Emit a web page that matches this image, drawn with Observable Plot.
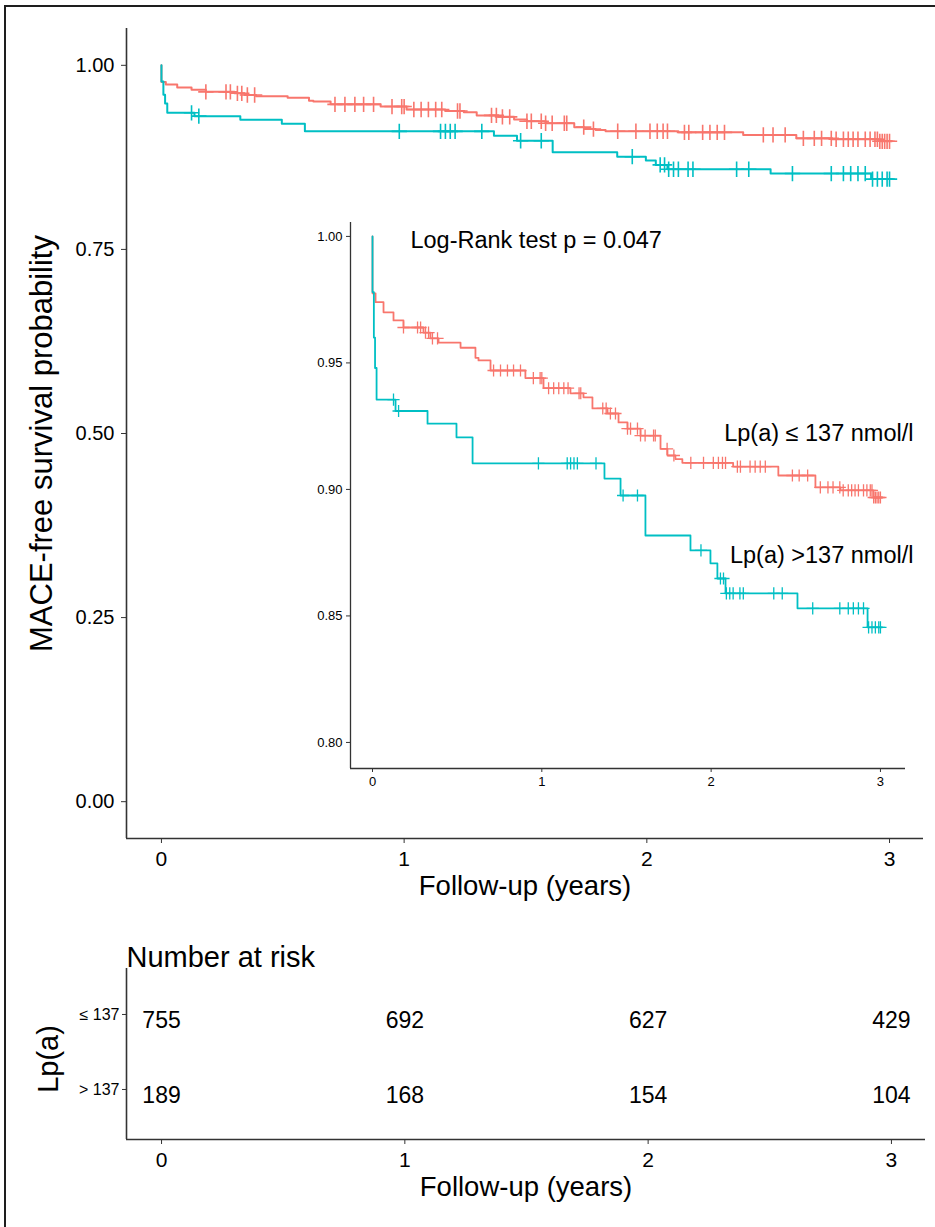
<!DOCTYPE html>
<html>
<head>
<meta charset="utf-8">
<script src="https://cdn.jsdelivr.net/npm/d3@7"></script>
<script src="https://cdn.jsdelivr.net/npm/@observablehq/plot@0.6"></script>
<style>
  body { margin: 0; background: #fff; }
  #fig { position: relative; width: 935px; height: 1227px; overflow: hidden; background: #fff;
         font-family: "Liberation Sans", Arial, sans-serif; }
  #frame { position: absolute; left: 4px; top: 5px; width: 931px; height: 1222px;
           border-top: 2px solid #1e1e1e; border-left: 2px solid #1e1e1e; box-sizing: border-box; }
  #main { position: absolute; left: 0; top: 0; width: 935px; }
  #inset { position: absolute; left: 300px; top: 205px; width: 635px; }
  #risk { position: absolute; left: 0; top: 915px; width: 935px; }
  svg { overflow: visible; }
</style>
</head>
<body>
<div id="fig">
  <div id="frame"></div>
  <div id="main"></div>
  <div id="inset"></div>
  <div id="risk"></div>
</div>
<script>
// ---------------- data ----------------
const groups = ["Lp(a) ≤ 137 nmol/l", "Lp(a) >137 nmol/l"];
const colors = ["#F8766D", "#00BFC4"];

// Kaplan-Meier steps, group Lp(a) <= 137
const lowTime = [0, 0, 0.018, 0.065, 0.124, 0.183, 0.301, 0.342, 0.390, 0.520, 0.608, 0.626, 0.697,
  0.903, 1.010, 1.169, 1.246, 1.299, 1.388, 1.453, 1.506, 1.583, 1.701, 1.742, 1.789, 1.830,
  2.130, 2.397, 2.616, 2.764, 2.959, 3.010];
const lowSurv = [1, 0.9775, 0.974, 0.970, 0.9668, 0.964, 0.962, 0.9597, 0.958, 0.956, 0.952, 0.951, 0.947,
  0.944, 0.940, 0.938, 0.9364, 0.932, 0.930, 0.9265, 0.924, 0.9213, 0.916, 0.9134, 0.912, 0.9105,
  0.9090, 0.9055, 0.9008, 0.8996, 0.8968, 0.8968];
const lowCensor = [0.183, 0.266, 0.284, 0.313, 0.331, 0.354, 0.384, 0.715, 0.756, 0.797, 0.833, 0.874,
  0.95, 0.99, 1.0, 1.04, 1.07, 1.10, 1.13, 1.155, 1.22, 1.23, 1.36, 1.38, 1.405, 1.435, 1.506, 1.524,
  1.565, 1.583, 1.61, 1.66, 1.67, 1.74, 1.78, 1.88, 1.955, 2.013, 2.043, 2.067, 2.085, 2.155, 2.173,
  2.23, 2.26, 2.29, 2.32, 2.48, 2.52, 2.57, 2.645, 2.69, 2.72, 2.76, 2.78, 2.81, 2.83, 2.85, 2.87,
  2.90, 2.92, 2.94, 2.95, 2.96, 2.97, 2.98, 2.99, 3.0];

// Kaplan-Meier steps, group Lp(a) > 137
const highTime = [0, 0, 0.008, 0.015, 0.024, 0.136, 0.325, 0.496, 0.591, 1.370, 1.465, 1.612,
  1.878, 1.996, 2.037, 2.085, 2.510, 2.924, 3.010];
const highSurv = [1, 0.978, 0.960, 0.948, 0.9355, 0.931, 0.926, 0.9206, 0.9103, 0.9043, 0.8976, 0.8818,
  0.8759, 0.8708, 0.8648, 0.8589, 0.853, 0.8455, 0.8455];
const highCensor = [0.124, 0.154, 0.98, 1.15, 1.17, 1.19, 1.21, 1.32, 1.48, 1.565, 1.94, 2.055, 2.073,
  2.09, 2.11, 2.13, 2.17, 2.19, 2.37, 2.42, 2.60, 2.76, 2.81, 2.84, 2.87, 2.90, 2.93, 2.95, 2.97, 2.99, 3.0];

// Number at risk
const riskTimes = [0, 1, 2, 3];
const riskGroups = ["≤ 137", "> 137"];
const riskLow = [755, 692, 627, 429];
const riskHigh = [189, 168, 154, 104];

const xTicks = [0, 1, 2, 3];
const mainYTicks = [0, 0.25, 0.5, 0.75, 1];
const insetYTicks = [0.80, 0.85, 0.90, 0.95, 1.00];
const pText = "Log-Rank test p = 0.047";

// ---------------- build tables ----------------
function stepRows(times, surv, group) { return times.map((t, i) => ({time: t, surv: surv[i], group})); }
function survAt(times, surv, t) { let s = surv[0]; for (let i = 0; i < times.length; i++) if (times[i] <= t) s = surv[i]; return s; }
function censorRows(ct, times, surv, group) { return ct.map(t => ({time: t, surv: survAt(times, surv, t), group})); }

const lines = [...stepRows(lowTime, lowSurv, groups[0]), ...stepRows(highTime, highSurv, groups[1])];
const cens = [...censorRows(lowCensor, lowTime, lowSurv, groups[0]), ...censorRows(highCensor, highTime, highSurv, groups[1])];
// row index 1 = first group (top), 2 = second group
const risk = [
  ...riskTimes.map((t, i) => ({time: t, row: 1, n: riskLow[i]})),
  ...riskTimes.map((t, i) => ({time: t, row: 2, n: riskHigh[i]}))
];

const FONT = '"Liberation Sans", Arial, sans-serif';
const AX = "#333";
const xDomain = [-0.144, 3.14];
const mainYDomain = [-0.05, 1.05];
const insetXDomain = [-0.13, 3.148];
const insetYDomain = [0.7897, 1.0055];
const riskYDomain = [2.587, 0.307];

// ---------------- main plot ----------------
const mainPlot = Plot.plot({
  width: 935, height: 915,
  marginTop: 28, marginLeft: 126, marginRight: 12, marginBottom: 77,
  style: {fontFamily: FONT, background: "transparent", color: "#000"},
  x: {domain: xDomain, label: null},
  y: {domain: mainYDomain, label: null},
  color: {domain: groups, range: colors},
  marks: [
    Plot.ruleX([xDomain[0]], {stroke: AX, strokeWidth: 1.6}),
    Plot.ruleY([mainYDomain[0]], {stroke: AX, strokeWidth: 1.6}),
    Plot.axisX({ticks: xTicks, tickFormat: "d", fontSize: 21, tickSize: 5, tickPadding: 8, stroke: AX, label: null}),
    Plot.axisY({ticks: mainYTicks, tickFormat: ".2f", fontSize: 20, tickSize: 5, tickPadding: 7, stroke: AX, label: null}),
    Plot.line(lines, {x: "time", y: "surv", stroke: "group", curve: "step-after", strokeWidth: 2}),
    Plot.dot(cens, {x: "time", y: "surv", stroke: "group", symbol: "plus", r: 5, strokeWidth: 1.6}),
    Plot.text(["Follow-up (years)"], {frameAnchor: "bottom", dy: 56, fontSize: 27.5}),
    Plot.text(["MACE-free survival probability"], {frameAnchor: "left", textAnchor: "middle", rotate: -90, dx: -84, dy: 10, fontSize: 31})
  ]
});
document.getElementById("main").appendChild(mainPlot);

// ---------------- inset ----------------
const insetPlot = Plot.plot({
  width: 635, height: 590,
  marginTop: 17, marginLeft: 50, marginRight: 30, marginBottom: 27,
  style: {fontFamily: FONT, background: "transparent", color: "#000"},
  x: {domain: insetXDomain, label: null},
  y: {domain: insetYDomain, label: null},
  color: {domain: groups, range: colors},
  marks: [
    Plot.ruleX([insetXDomain[0]], {stroke: AX, strokeWidth: 1.3}),
    Plot.ruleY([insetYDomain[0]], {stroke: AX, strokeWidth: 1.3}),
    Plot.axisX({ticks: xTicks, tickFormat: "d", fontSize: 13, tickSize: 4, tickPadding: 4, stroke: AX, label: null}),
    Plot.axisY({ticks: insetYTicks, tickFormat: ".2f", fontSize: 13, tickSize: 4, tickPadding: 4, stroke: AX, label: null}),
    Plot.line(lines, {x: "time", y: "surv", stroke: "group", curve: "step-after", strokeWidth: 1.8}),
    Plot.dot(cens, {x: "time", y: "surv", stroke: "group", symbol: "plus", r: 4, strokeWidth: 1.3}),
    Plot.text([pText], {x: 0.224, y: 0.9984, textAnchor: "start", fontSize: 23.5}),
    Plot.text([groups[0]], {x: 3.195, y: 0.922, textAnchor: "end", fontSize: 23.5}),
    Plot.text([groups[1]], {x: 3.195, y: 0.874, textAnchor: "end", fontSize: 23.5})
  ]
});
document.getElementById("inset").appendChild(insetPlot);

// ---------------- risk table ----------------
const riskPlot = Plot.plot({
  width: 935, height: 312,
  marginTop: 53, marginLeft: 126, marginRight: 10, marginBottom: 88,
  style: {fontFamily: FONT, background: "transparent", color: "#000"},
  x: {domain: xDomain, label: null},
  y: {domain: riskYDomain, label: null},
  marks: [
    Plot.ruleX([xDomain[0]], {stroke: AX, strokeWidth: 1.6}),
    Plot.ruleY([riskYDomain[0]], {stroke: AX, strokeWidth: 1.6}),
    Plot.axisX({ticks: xTicks, tickFormat: "d", fontSize: 21, tickSize: 5, tickPadding: 8, stroke: AX, label: null}),
    Plot.axisY({ticks: [1, 2], tickFormat: (d) => riskGroups[d - 1], fontSize: 16, tickSize: 4, tickPadding: 3, stroke: AX, label: null, dy: -6}),
    Plot.text(risk, {x: "time", y: "row", text: "n", fontSize: 23}),
    Plot.text(["Follow-up (years)"], {frameAnchor: "bottom", dy: 56, fontSize: 27.5}),
    Plot.text(["Number at risk"], {frameAnchor: "top-left", textAnchor: "start", dy: -22, fontSize: 29}),
    Plot.text(["Lp(a)"], {frameAnchor: "left", textAnchor: "middle", rotate: -90, dx: -78, dy: 5, fontSize: 29})
  ]
});
document.getElementById("risk").appendChild(riskPlot);
</script>
</body>
</html>
